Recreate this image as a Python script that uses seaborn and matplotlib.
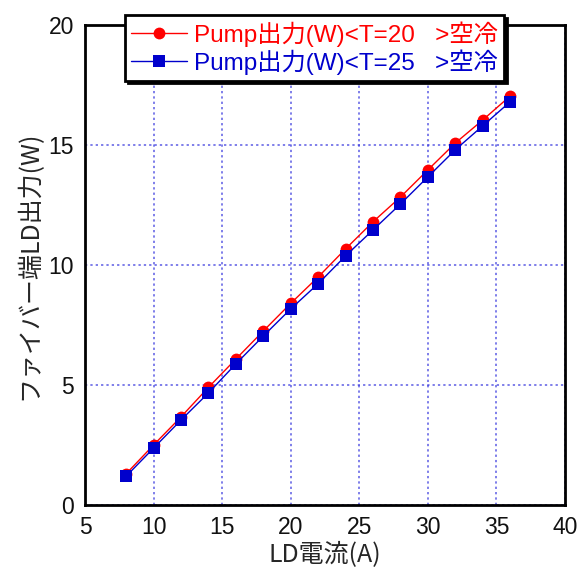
import matplotlib
matplotlib.use("Agg")
import matplotlib.pyplot as plt
import seaborn as sns
import pandas as pd
from matplotlib.lines import Line2D

ld_current = [8, 10, 12, 14, 16, 18, 20, 22, 24, 26, 28, 30, 32, 34, 36]
pump_t20 = [1.30, 2.50, 3.67, 4.90, 6.08, 7.25, 8.40, 9.50, 10.67, 11.80, 12.83, 13.96, 15.08, 16.04, 17.04]
pump_t25 = [1.20, 2.37, 3.54, 4.67, 5.88, 7.04, 8.17, 9.22, 10.38, 11.46, 12.54, 13.67, 14.80, 15.80, 16.80]
label_t20 = "Pump出力(W)<T=20   >空冷"
label_t25 = "Pump出力(W)<T=25   >空冷"
x_label = "LD電流(A)"
y_label = "ファイバー端LD出力(W)"
x_ticks = [5, 10, 15, 20, 25, 30, 35, 40]
y_ticks = [0, 5, 10, 15, 20]

sns.set_theme(style="white")
plt.rcParams['font.family'] = ['Liberation Sans', 'Noto Sans CJK JP', 'DejaVu Sans']

df = pd.DataFrame({
    "x": ld_current * 2,
    "y": pump_t20 + pump_t25,
    "series": [label_t20] * len(ld_current) + [label_t25] * len(ld_current),
})

fig = plt.figure(figsize=(5.82, 5.69), dpi=100)
ax = fig.add_axes([85/582, 1 - 505/569, 480/582, 480/569])

sns.lineplot(data=df, x="x", y="y", hue="series", style="series",
             palette={label_t20: "#ff0000", label_t25: "#0000cc"},
             markers={label_t20: "o", label_t25: "s"}, dashes=False,
             markersize=8.5, linewidth=1.0, markeredgewidth=0, ax=ax, legend=False)

ax.set_xlim(5, 40)
ax.set_ylim(0, 20)
ax.set_xticks(x_ticks)
ax.set_yticks(y_ticks)
ax.grid(True, color="#3333dd", linestyle=(0, (1.5, 2.0)), linewidth=1.1, alpha=0.8)
for s in ax.spines.values():
    s.set_color("black")
    s.set_linewidth(2)
ax.tick_params(direction="in", length=5, width=1.2, color="black", labelsize=16.5,
               pad=8, labelcolor="#111111")
ax.set_xlabel(x_label, fontsize=18, family=['Noto Sans CJK JP'], labelpad=2)
ax.set_ylabel(y_label, fontsize=18, family=['Noto Sans CJK JP'], labelpad=4)

handles = [Line2D([], [], color="#ff0000", marker="o", markersize=8.5, markeredgewidth=0, linewidth=1),
           Line2D([], [], color="#0000cc", marker="s", markersize=8.5, markeredgewidth=0, linewidth=1)]
leg = ax.legend(handles, [label_t20, label_t25], loc="upper left",
                bbox_to_anchor=(40/480, 1 + 10/480), frameon=True, fancybox=False,
                shadow={"color": "black", "alpha": 1.0}, framealpha=1,
                prop={"family": ["Liberation Sans", "Noto Sans CJK JP"], "size": 17.5},
                handlelength=2.3, handletextpad=0.3, borderpad=0.25, labelspacing=0.1,
                borderaxespad=0)
leg.get_frame().set_edgecolor("black")
leg.get_frame().set_linewidth(2)
for t, c in zip(leg.get_texts(), ["#ff0000", "#0000cc"]):
    t.set_color(c)

fig.savefig("out.png", dpi=100)
